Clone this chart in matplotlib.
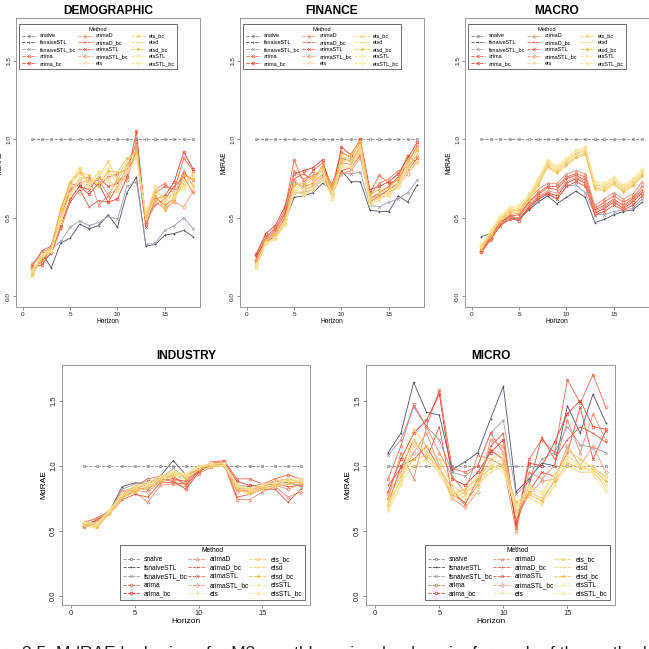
#MdRAE by horizon for the M3 monthly series, one panel per domain

import matplotlib
matplotlib.use("Agg")
import matplotlib.pyplot as plt
from matplotlib.lines import Line2D
import numpy as np

plt.rcParams['font.family'] = ['Liberation Sans', 'DejaVu Sans']

horizon = np.arange(1, 19)

methods = ["snaive", "fsnaiveSTL", "fsnaiveSTL_bc", "arima", "arima_bc",
           "arimaD", "arimaD_bc", "arimaSTL", "arimaSTL_bc", "ets",
           "ets_bc", "etsd", "etsd_bc", "etsSTL", "etsSTL_bc"]

colours = ["#8c8c8c", "#4e4e62", "#9c9cac", "#ec6a4c", "#e2402e",
           "#f08a6a", "#e85a3c", "#ee5236", "#f49a78", "#f8dc9a",
           "#f6cc66", "#f3d47a", "#f4c04e", "#f8e6a6", "#f9e48e"]

markers = ["s", "+", "x", "o", "o", "^", "+", "x", "D", "v",
           "o", "+", "*", "v", "D"]

# one row per method, one value per horizon (1..18)
demographic = [
    [1.0, 1.0, 1.0, 1.0, 1.0, 1.0, 1.0, 1.0, 1.0, 1.0, 1.0, 1.0, 1.0, 1.0, 1.0, 1.0, 1.0, 1.0],
    [0.20, 0.28, 0.18, 0.34, 0.37, 0.46, 0.43, 0.45, 0.52, 0.44, 0.66, 0.76, 0.32, 0.33, 0.39, 0.40, 0.42, 0.38],
    [0.21, 0.26, 0.30, 0.35, 0.44, 0.48, 0.45, 0.47, 0.51, 0.49, 0.70, 0.73, 0.33, 0.34, 0.42, 0.45, 0.50, 0.43],
    [0.17, 0.22, 0.30, 0.50, 0.68, 0.72, 0.74, 0.70, 0.76, 0.78, 0.81, 0.98, 0.50, 0.66, 0.70, 0.68, 0.88, 0.80],
    [0.18, 0.20, 0.28, 0.45, 0.62, 0.70, 0.65, 0.72, 0.60, 0.62, 0.76, 1.05, 0.46, 0.62, 0.64, 0.73, 0.92, 0.81],
    [0.15, 0.24, 0.29, 0.48, 0.66, 0.75, 0.76, 0.58, 0.64, 0.75, 0.74, 0.95, 0.52, 0.68, 0.72, 0.65, 0.80, 0.70],
    [0.16, 0.23, 0.27, 0.43, 0.60, 0.68, 0.57, 0.61, 0.60, 0.70, 0.78, 0.92, 0.48, 0.58, 0.62, 0.70, 0.76, 0.66],
    [0.19, 0.29, 0.32, 0.55, 0.72, 0.70, 0.68, 0.76, 0.70, 0.72, 0.80, 0.90, 0.44, 0.63, 0.58, 0.62, 0.78, 0.74],
    [0.20, 0.28, 0.31, 0.52, 0.70, 0.66, 0.73, 0.74, 0.65, 0.68, 0.83, 0.96, 0.47, 0.60, 0.56, 0.60, 0.57, 0.67],
    [0.14, 0.25, 0.30, 0.52, 0.70, 0.80, 0.72, 0.78, 0.82, 0.70, 0.80, 0.88, 0.53, 0.65, 0.60, 0.66, 0.70, 0.76],
    [0.13, 0.24, 0.29, 0.50, 0.72, 0.82, 0.70, 0.76, 0.86, 0.74, 0.84, 0.90, 0.50, 0.67, 0.63, 0.64, 0.72, 0.78],
    [0.15, 0.26, 0.31, 0.54, 0.71, 0.78, 0.74, 0.72, 0.78, 0.76, 0.86, 0.93, 0.49, 0.62, 0.57, 0.62, 0.74, 0.72],
    [0.14, 0.25, 0.30, 0.56, 0.73, 0.79, 0.77, 0.70, 0.80, 0.79, 0.88, 0.92, 0.51, 0.64, 0.55, 0.61, 0.77, 0.75],
    [0.16, 0.27, 0.28, 0.47, 0.64, 0.74, 0.69, 0.79, 0.73, 0.66, 0.79, 0.87, 0.54, 0.69, 0.61, 0.67, 0.68, 0.69],
    [0.17, 0.26, 0.29, 0.49, 0.65, 0.76, 0.71, 0.80, 0.75, 0.68, 0.82, 0.89, 0.52, 0.70, 0.59, 0.63, 0.70, 0.71],
]

finance = [
    [1.0, 1.0, 1.0, 1.0, 1.0, 1.0, 1.0, 1.0, 1.0, 1.0, 1.0, 1.0, 1.0, 1.0, 1.0, 1.0, 1.0, 1.0],
    [0.20, 0.36, 0.37, 0.47, 0.63, 0.64, 0.66, 0.72, 0.68, 0.80, 0.73, 0.73, 0.55, 0.54, 0.54, 0.64, 0.60, 0.71],
    [0.21, 0.35, 0.39, 0.50, 0.66, 0.66, 0.68, 0.75, 0.70, 0.78, 0.78, 0.79, 0.58, 0.57, 0.60, 0.62, 0.66, 0.74],
    [0.26, 0.38, 0.43, 0.55, 0.87, 0.72, 0.80, 0.85, 0.70, 0.92, 0.88, 0.98, 0.66, 0.77, 0.72, 0.74, 0.85, 0.96],
    [0.27, 0.40, 0.45, 0.57, 0.78, 0.80, 0.82, 0.87, 0.66, 0.95, 0.90, 1.00, 0.68, 0.70, 0.73, 0.78, 0.88, 0.98],
    [0.24, 0.37, 0.44, 0.53, 0.80, 0.75, 0.77, 0.80, 0.72, 0.85, 0.84, 0.92, 0.64, 0.72, 0.75, 0.80, 0.82, 0.90],
    [0.25, 0.36, 0.42, 0.52, 0.75, 0.78, 0.74, 0.83, 0.68, 0.88, 0.86, 0.95, 0.62, 0.66, 0.70, 0.76, 0.90, 0.85],
    [0.22, 0.34, 0.40, 0.50, 0.72, 0.70, 0.72, 0.78, 0.64, 0.80, 0.82, 0.90, 0.60, 0.64, 0.68, 0.72, 0.80, 0.88],
    [0.23, 0.35, 0.41, 0.49, 0.74, 0.68, 0.70, 0.76, 0.65, 0.78, 0.80, 0.88, 0.61, 0.65, 0.66, 0.70, 0.78, 0.86],
    [0.19, 0.33, 0.38, 0.47, 0.70, 0.68, 0.73, 0.78, 0.66, 0.87, 0.86, 0.96, 0.62, 0.62, 0.66, 0.72, 0.84, 0.92],
    [0.18, 0.34, 0.37, 0.46, 0.68, 0.66, 0.71, 0.84, 0.62, 0.90, 0.85, 0.94, 0.59, 0.63, 0.64, 0.70, 0.86, 0.94],
    [0.20, 0.35, 0.39, 0.48, 0.72, 0.70, 0.75, 0.80, 0.67, 0.84, 0.89, 0.97, 0.63, 0.66, 0.68, 0.73, 0.83, 0.90],
    [0.21, 0.36, 0.40, 0.49, 0.71, 0.72, 0.76, 0.82, 0.69, 0.86, 0.91, 0.99, 0.65, 0.68, 0.69, 0.75, 0.87, 0.93],
    [0.19, 0.33, 0.36, 0.45, 0.66, 0.64, 0.68, 0.74, 0.63, 0.82, 0.82, 0.92, 0.58, 0.61, 0.65, 0.69, 0.79, 0.84],
    [0.20, 0.34, 0.37, 0.46, 0.67, 0.65, 0.69, 0.75, 0.64, 0.83, 0.83, 0.93, 0.60, 0.62, 0.67, 0.71, 0.81, 0.86],
]

macro = [
    [1.0, 1.0, 1.0, 1.0, 1.0, 1.0, 1.0, 1.0, 1.0, 1.0, 1.0, 1.0, 1.0, 1.0, 1.0, 1.0, 1.0, 1.0],
    [0.38, 0.40, 0.46, 0.50, 0.49, 0.55, 0.60, 0.64, 0.59, 0.63, 0.67, 0.63, 0.47, 0.49, 0.52, 0.54, 0.55, 0.60],
    [0.30, 0.37, 0.45, 0.50, 0.50, 0.56, 0.61, 0.66, 0.62, 0.70, 0.71, 0.66, 0.52, 0.52, 0.54, 0.55, 0.56, 0.62],
    [0.29, 0.38, 0.47, 0.51, 0.50, 0.60, 0.66, 0.70, 0.70, 0.76, 0.78, 0.76, 0.56, 0.60, 0.64, 0.60, 0.63, 0.70],
    [0.28, 0.37, 0.46, 0.50, 0.48, 0.57, 0.63, 0.66, 0.64, 0.72, 0.75, 0.72, 0.53, 0.56, 0.60, 0.56, 0.60, 0.66],
    [0.30, 0.39, 0.48, 0.52, 0.53, 0.62, 0.68, 0.72, 0.72, 0.78, 0.80, 0.78, 0.58, 0.62, 0.66, 0.62, 0.65, 0.73],
    [0.29, 0.38, 0.47, 0.51, 0.52, 0.60, 0.65, 0.69, 0.68, 0.75, 0.77, 0.74, 0.55, 0.58, 0.62, 0.58, 0.62, 0.68],
    [0.28, 0.36, 0.45, 0.49, 0.49, 0.56, 0.62, 0.65, 0.62, 0.70, 0.73, 0.70, 0.52, 0.54, 0.58, 0.55, 0.58, 0.64],
    [0.29, 0.37, 0.46, 0.50, 0.50, 0.58, 0.64, 0.67, 0.66, 0.73, 0.76, 0.73, 0.54, 0.57, 0.61, 0.57, 0.61, 0.67],
    [0.31, 0.40, 0.49, 0.54, 0.55, 0.62, 0.72, 0.84, 0.80, 0.85, 0.90, 0.92, 0.70, 0.69, 0.73, 0.68, 0.72, 0.78],
    [0.32, 0.41, 0.50, 0.55, 0.56, 0.63, 0.73, 0.85, 0.81, 0.86, 0.91, 0.93, 0.71, 0.70, 0.74, 0.69, 0.73, 0.79],
    [0.30, 0.39, 0.48, 0.53, 0.54, 0.61, 0.70, 0.82, 0.78, 0.83, 0.88, 0.90, 0.68, 0.67, 0.71, 0.66, 0.70, 0.76],
    [0.31, 0.40, 0.49, 0.54, 0.55, 0.62, 0.71, 0.83, 0.79, 0.84, 0.89, 0.91, 0.69, 0.68, 0.72, 0.67, 0.71, 0.77],
    [0.33, 0.41, 0.50, 0.56, 0.57, 0.64, 0.74, 0.86, 0.82, 0.87, 0.92, 0.94, 0.72, 0.71, 0.75, 0.70, 0.74, 0.80],
    [0.32, 0.42, 0.51, 0.57, 0.58, 0.65, 0.75, 0.87, 0.83, 0.88, 0.93, 0.95, 0.73, 0.72, 0.76, 0.71, 0.75, 0.81],
]

industry = [
    [1.0, 1.0, 1.0, 1.0, 1.0, 1.0, 1.0, 1.0, 1.0, 1.0, 1.0, 1.0, 1.0, 1.0, 1.0, 1.0, 1.0, 1.0],
    [0.55, 0.58, 0.65, 0.84, 0.87, 0.86, 0.92, 1.04, 0.93, 0.97, 1.00, 1.02, 0.85, 0.84, 0.86, 0.88, 0.87, 0.85],
    [0.54, 0.56, 0.64, 0.82, 0.86, 0.88, 0.90, 0.98, 0.90, 0.95, 1.01, 1.00, 0.83, 0.82, 0.85, 0.86, 0.88, 0.84],
    [0.56, 0.60, 0.65, 0.80, 0.84, 0.90, 0.92, 0.92, 0.85, 0.96, 1.03, 1.04, 0.90, 0.90, 0.86, 0.90, 0.93, 0.90],
    [0.54, 0.58, 0.64, 0.78, 0.82, 0.86, 0.90, 0.88, 0.82, 0.95, 1.02, 1.03, 0.88, 0.85, 0.84, 0.88, 0.90, 0.87],
    [0.57, 0.59, 0.66, 0.76, 0.80, 0.72, 0.85, 0.86, 0.84, 0.94, 0.99, 1.01, 0.74, 0.74, 0.80, 0.84, 0.76, 0.80],
    [0.55, 0.57, 0.63, 0.74, 0.78, 0.76, 0.87, 0.87, 0.86, 0.96, 1.00, 1.02, 0.76, 0.78, 0.82, 0.82, 0.72, 0.82],
    [0.53, 0.56, 0.64, 0.79, 0.83, 0.82, 0.89, 0.90, 0.88, 0.97, 1.01, 1.00, 0.82, 0.80, 0.85, 0.86, 0.84, 0.85],
    [0.54, 0.57, 0.65, 0.77, 0.81, 0.80, 0.88, 0.89, 0.87, 0.98, 1.02, 1.01, 0.80, 0.81, 0.83, 0.85, 0.82, 0.86],
    [0.55, 0.54, 0.64, 0.77, 0.82, 0.85, 0.90, 0.94, 0.92, 0.99, 1.00, 1.01, 0.84, 0.80, 0.84, 0.86, 0.88, 0.88],
    [0.56, 0.55, 0.65, 0.78, 0.84, 0.86, 0.91, 0.95, 0.93, 1.00, 1.01, 1.02, 0.85, 0.81, 0.85, 0.87, 0.89, 0.89],
    [0.54, 0.52, 0.63, 0.75, 0.80, 0.83, 0.88, 0.92, 0.90, 0.97, 0.99, 1.00, 0.82, 0.78, 0.82, 0.84, 0.86, 0.86],
    [0.55, 0.53, 0.64, 0.76, 0.81, 0.84, 0.89, 0.93, 0.91, 0.98, 1.00, 1.01, 0.83, 0.79, 0.83, 0.85, 0.87, 0.87],
    [0.57, 0.56, 0.66, 0.79, 0.85, 0.87, 0.92, 0.96, 0.94, 1.00, 1.02, 1.02, 0.86, 0.83, 0.86, 0.88, 0.90, 0.90],
    [0.56, 0.55, 0.65, 0.78, 0.83, 0.86, 0.91, 0.94, 0.93, 0.99, 1.01, 1.00, 0.85, 0.82, 0.85, 0.87, 0.89, 0.88],
]

micro = [
    [1.0, 1.0, 1.0, 1.0, 1.0, 1.0, 1.0, 1.0, 1.0, 1.0, 1.0, 1.0, 1.0, 1.0, 1.0, 1.0, 1.0, 1.0],
    [1.10, 1.25, 1.64, 1.41, 1.39, 0.97, 1.03, 1.10, 1.36, 1.61, 0.80, 0.90, 1.02, 1.00, 1.46, 1.25, 1.55, 1.33],
    [1.08, 1.20, 1.45, 1.30, 1.20, 0.95, 0.92, 1.00, 1.25, 1.35, 0.78, 0.88, 1.05, 1.10, 1.30, 1.16, 1.14, 1.10],
    [0.90, 1.15, 1.47, 1.30, 1.58, 0.98, 0.95, 1.00, 1.25, 1.10, 0.55, 1.05, 1.20, 1.10, 1.66, 1.48, 1.70, 1.45],
    [0.80, 1.05, 1.25, 1.35, 1.55, 0.90, 0.85, 0.95, 1.10, 1.20, 0.52, 1.02, 1.00, 1.18, 1.40, 1.50, 1.30, 1.28],
    [0.75, 1.10, 0.90, 1.30, 1.10, 0.92, 0.80, 1.08, 1.05, 1.00, 0.50, 0.95, 0.90, 1.00, 1.35, 1.10, 1.40, 1.20],
    [0.85, 0.98, 1.20, 1.05, 1.30, 0.78, 0.72, 0.85, 1.15, 1.25, 0.55, 0.85, 1.22, 1.05, 1.20, 1.30, 1.25, 1.18],
    [0.70, 1.00, 1.05, 1.15, 0.98, 0.82, 0.70, 0.90, 1.12, 1.05, 0.58, 0.80, 0.95, 0.92, 1.10, 1.45, 1.05, 1.27],
    [0.78, 0.95, 1.10, 1.25, 1.00, 0.75, 0.68, 0.80, 1.20, 1.15, 0.60, 0.78, 0.88, 0.90, 1.15, 1.00, 1.15, 0.95],
    [0.65, 0.85, 1.20, 1.10, 1.00, 0.80, 0.82, 0.92, 1.00, 1.05, 0.62, 0.85, 0.72, 0.90, 1.08, 1.00, 1.00, 0.90],
    [0.68, 0.90, 1.28, 1.15, 1.05, 0.85, 0.78, 0.88, 1.05, 1.10, 0.65, 0.80, 0.75, 0.88, 1.12, 1.05, 0.98, 0.92],
    [0.72, 0.88, 1.00, 1.05, 0.95, 0.75, 0.80, 0.86, 0.95, 1.00, 0.70, 0.76, 0.70, 0.85, 1.00, 0.95, 0.95, 0.85],
    [0.75, 0.92, 1.05, 1.08, 0.98, 0.78, 0.82, 0.90, 0.98, 1.02, 0.72, 0.78, 0.73, 0.88, 1.02, 0.98, 0.97, 0.88],
    [0.66, 0.86, 1.15, 1.12, 0.96, 0.82, 0.74, 0.80, 1.02, 0.95, 0.68, 0.82, 0.78, 0.92, 1.06, 1.02, 0.93, 0.80],
    [0.70, 0.89, 1.18, 1.10, 0.94, 0.80, 0.76, 0.84, 1.00, 0.98, 0.70, 0.84, 0.80, 0.94, 1.04, 1.00, 0.96, 0.82],
]

x_ticks = [0, 5, 10, 15]
y_ticks = [0.0, 0.5, 1.0, 1.5]
y_tick_labels = ["0.0", "0.5", "1.0", "1.5"]

fig = plt.figure(figsize=(6.49, 6.49), dpi=100)


#Function for drawing one domain panel

def draw_panel(rect, title, values, legend_box, small):
    ax = fig.add_axes(rect)
    tick_size = 4.6 if small else 5.4
    for i, name in enumerate(methods):
        ax.plot(horizon, values[i], color=colours[i], lw=0.6,
                ls="--" if i == 0 else "-", marker=markers[i], ms=2.0,
                mfc="none", mew=0.5, label=name)

    ax.set_xlim(-0.72, 18.72)
    ax.set_ylim(-0.068, 1.773)
    ax.set_xticks(x_ticks)
    ax.set_yticks(y_ticks)
    ax.set_yticklabels(y_tick_labels, rotation=90, va="center")
    ax.tick_params(labelsize=tick_size, length=2, width=0.5, pad=1.5,
                   color="#666666", labelcolor="#222222")
    for spine in ax.spines.values():
        spine.set_color("#9a9a9a")
        spine.set_linewidth(0.7)

    ax.set_title(title, fontsize=8.6, fontweight="bold", pad=3 if small else 4)
    ax.set_xlabel("Horizon", fontsize=4.8 if small else 6.0, labelpad=1)
    ax.set_ylabel("MdRAE", fontsize=4.8 if small else 6.0, labelpad=2)

    handles = [Line2D([], [], color=colours[i], lw=0.6, ls="--",
                      marker=markers[i], ms=2.0, mfc="none", mew=0.5)
               for i in range(len(methods))]
    leg = ax.legend(handles, methods, title="Method", ncol=3,
                    loc="upper left" if small else "lower left",
                    bbox_to_anchor=legend_box, mode="expand",
                    fontsize=4.0 if small else 4.8,
                    title_fontsize=4.0 if small else 4.8,
                    fancybox=False, framealpha=1, edgecolor="#555555",
                    borderpad=0.5 if small else 0.4,
                    labelspacing=0.35 if small else 0.25,
                    handlelength=2.6, handletextpad=0.6,
                    columnspacing=0.4, borderaxespad=0)
    leg.get_frame().set_linewidth(0.6)
    return ax


# top row: three narrow panels, legend at the top left
draw_panel([0.0247, 0.527, 0.2835, 0.4453], "DEMOGRAPHIC", demographic, (0.016, 0.0, 0.86, 0.98), True)
draw_panel([0.3698, 0.527, 0.2835, 0.4453], "FINANCE", finance, (0.016, 0.0, 0.86, 0.98), True)
draw_panel([0.7165, 0.527, 0.2835, 0.4453], "MACRO", macro, (0.016, 0.0, 0.86, 0.98), True)

# bottom row: two wider panels, legend at the bottom right
draw_panel([0.0955, 0.0678, 0.382, 0.3698], "INDUSTRY", industry, (0.234, 0.02, 0.746, 0.5), False)
draw_panel([0.564, 0.0678, 0.3837, 0.3698], "MICRO", micro, (0.237, 0.02, 0.742, 0.5), False)

# caption of the figure, cut by the lower edge of the page
fig.text(-0.05, 0.005, "Figure 3.5: MdRAE by horizon for M3 monthly series, by domain, for each of the methods",
         fontsize=12.5, va="top", ha="left", color="#222222")

fig.savefig("out.png", dpi=100)
